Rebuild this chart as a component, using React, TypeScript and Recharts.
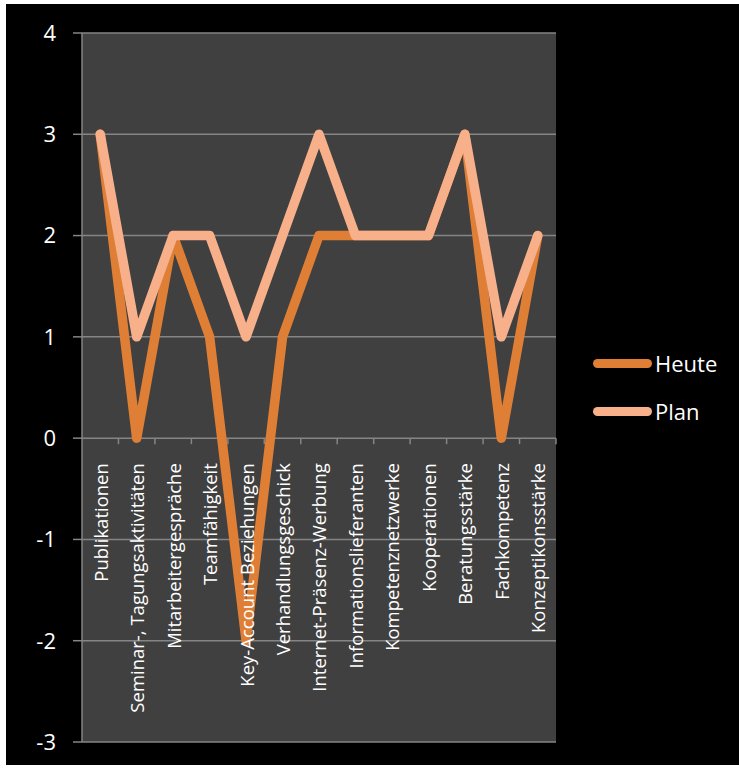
import { LineChart, Line, XAxis, YAxis, CartesianGrid, Legend } from "recharts";

const kategorien = [
  "Publikationen",
  "Seminar-, Tagungsaktivitäten",
  "Mitarbeitergespräche",
  "Teamfähigkeit",
  "Key-Account Beziehungen",
  "Verhandlungsgeschick",
  "Internet-Präsenz-Werbung",
  "Informationslieferanten",
  "Kompetenznetzwerke",
  "Kooperationen",
  "Beratungsstärke",
  "Fachkompetenz",
  "Konzeptikonsstärke",
];

const heute = [3, 0, 2, 1, -2, 1, 2, 2, 2, 2, 3, 0, 2];
const plan = [3, 1, 2, 2, 1, 2, 3, 2, 2, 2, 3, 1, 2];

const yTicks = [-3, -2, -1, 0, 1, 2, 3, 4];

const data = kategorien.map((name, i) => ({ name, Heute: heute[i], Plan: plan[i] }));

const W = 739;
const H = 769;
const TOP = 33;
const LEFT = 82;
const RIGHT = 556;
const BOTTOM = 742;
const FONT = "'Open Sans', sans-serif";
const GRID = "#858585";

const zeroY = TOP + ((BOTTOM - TOP) * 4) / 7;
const bandW = (RIGHT - LEFT) / kategorien.length;

function KategorieTick(props: any) {
  const { x, payload } = props;
  return (
    <g>
      <line x1={x + bandW / 2} x2={x + bandW / 2} y1={zeroY} y2={zeroY + 6} stroke={GRID} strokeWidth={1.5} />
      <text
        x={x}
        y={zeroY + 25}
        transform={`rotate(-90, ${x}, ${zeroY + 25})`}
        textAnchor="end"
        dominantBaseline="central"
        fill="#fff"
        fontSize={18.5}
        fontFamily={FONT}
      >
        {payload.value}
      </text>
    </g>
  );
}

function Legende(props: any) {
  const { payload } = props;
  return (
    <div style={{ position: "absolute", left: 593, top: 349 }}>
      {(payload || []).map((e: any, i: number) => (
        <div key={e.value} style={{ display: "flex", alignItems: "center", height: 28, marginBottom: i === 0 ? 20 : 0 }}>
          <div style={{ width: 59, height: 9, borderRadius: 4.5, background: e.color }} />
          <span style={{ color: "#fff", fontSize: 22, fontFamily: FONT, marginLeft: 3 }}>{e.value}</span>
        </div>
      ))}
    </div>
  );
}

export default function App() {
  return (
    <div style={{ position: "absolute", left: 0, top: 0, width: W, height: H, background: "#fff" }}>
      <div style={{ position: "absolute", left: 6, top: 4, width: 733, height: 761, background: "#000" }} />
      <div style={{ position: "absolute", left: 0, top: 0 }}>
        <LineChart width={W} height={H} data={data} margin={{ top: TOP, right: W - RIGHT, left: 0, bottom: 0 }}>
          <CartesianGrid vertical={false} stroke={GRID} strokeWidth={1.5} fill="#404040" />
          <XAxis
            dataKey="name"
            interval={0}
            axisLine={false}
            tickLine={false}
            height={H - BOTTOM}
            padding={{ left: bandW / 2, right: bandW / 2 }}
            tick={<KategorieTick />}
          />
          <YAxis
            width={LEFT}
            domain={[-3, 4]}
            ticks={yTicks}
            interval={0}
            tickSize={9}
            tickMargin={17}
            axisLine={{ stroke: GRID, strokeWidth: 1.5 }}
            tickLine={{ stroke: GRID, strokeWidth: 1.5 }}
            tick={{ fill: "#fff", fontSize: 22, fontFamily: FONT }}
          />
          <Legend
            content={<Legende />}
            wrapperStyle={{ position: "absolute", left: 0, top: 0, bottom: "auto", width: W, height: 0 }}
          />
          <Line
            type="linear"
            dataKey="Heute"
            stroke="#DF7F36"
            strokeWidth={9.5}
            strokeLinecap="round"
            strokeLinejoin="round"
            dot={false}
            activeDot={false}
            isAnimationActive={false}
          />
          <Line
            type="linear"
            dataKey="Plan"
            stroke="#F7B08A"
            strokeWidth={9.5}
            strokeLinecap="round"
            strokeLinejoin="round"
            dot={false}
            activeDot={false}
            isAnimationActive={false}
          />
        </LineChart>
      </div>
    </div>
  );
}
